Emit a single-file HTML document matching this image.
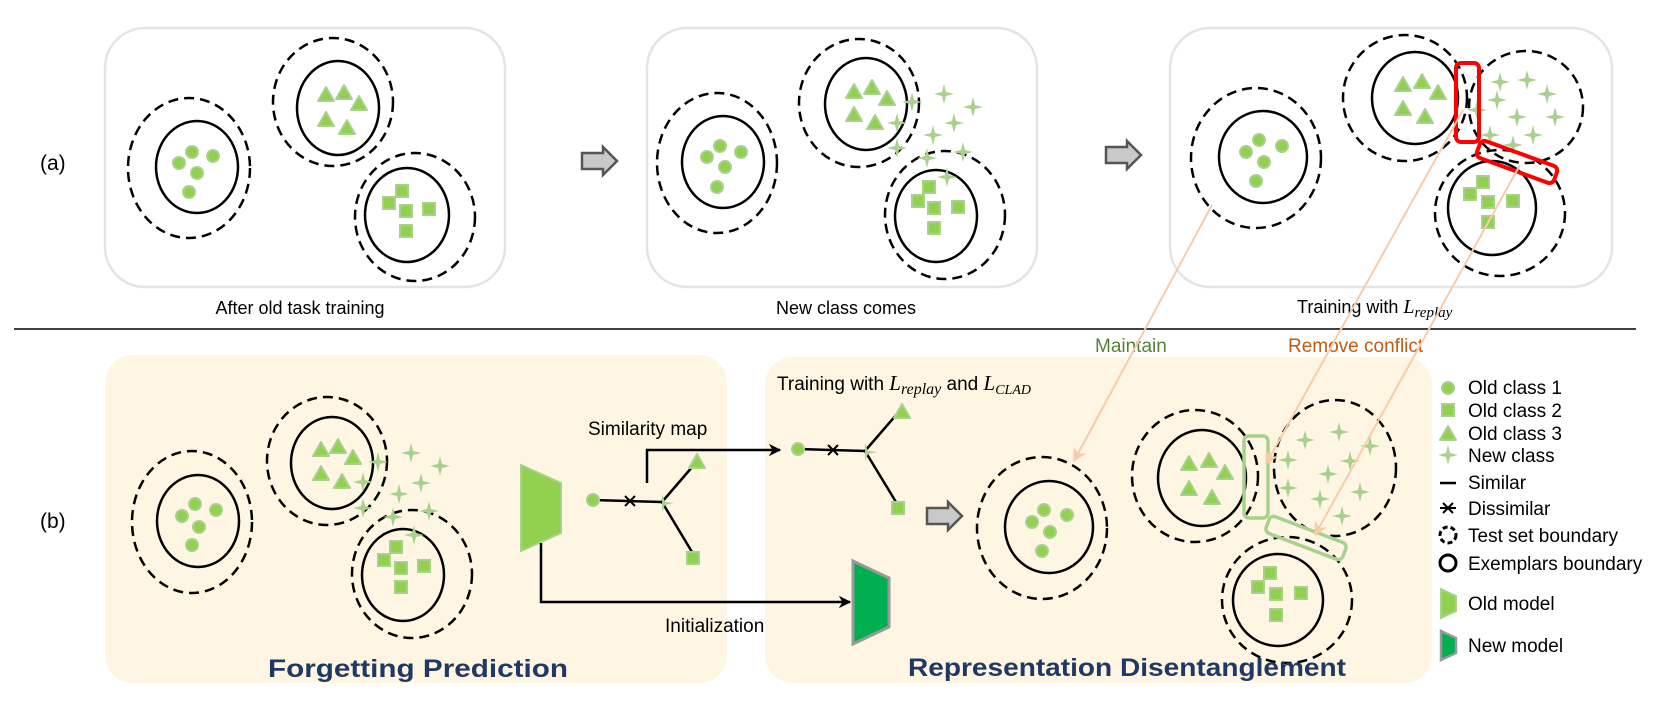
<!DOCTYPE html>
<html><head><meta charset="utf-8"><style>
html,body{margin:0;padding:0;background:#fff;}
svg{display:block;}
text{font-family:"Liberation Sans","DejaVu Sans",sans-serif;}
.m{font-family:"Liberation Serif",serif;font-style:italic;}
</style></head><body>
<svg width="1661" height="712" viewBox="0 0 1661 712" xmlns="http://www.w3.org/2000/svg">
<defs>
<g id="dot"><circle r="6" fill="#92d050" stroke="#a9d18e" stroke-width="2"/></g>
<g id="tri"><polygon points="0,-9 8,5 -8,5" fill="#92d050" stroke="#a9d18e" stroke-width="2" stroke-linejoin="round"/></g>
<g id="sq"><rect x="-6" y="-6" width="12" height="12" fill="#92d050" stroke="#a9d18e" stroke-width="2"/></g>
<g id="st"><path d="M0,-10 L2,-2 L10,0 L2,2 L0,10 L-2,2 L-10,0 L-2,-2Z" fill="#a9d18e"/></g>
<g id="garrow"><path d="M0,6 H21 V0 L35,14 L21,28 V22 H0Z" fill="#c9c9c9" stroke="#555" stroke-width="2.5" stroke-linejoin="miter"/></g>
<marker id="ah" viewBox="0 0 10 10" refX="9" refY="5" markerWidth="5" markerHeight="5" orient="auto"><path d="M0,0 L10,5 L0,10 L3,5Z" fill="#000"/></marker>
<marker id="oh" viewBox="0 0 10 10" refX="9" refY="5" markerWidth="7" markerHeight="7" orient="auto"><path d="M0,0 L10,5 L0,10 L3,5Z" fill="#f8cba9"/></marker>
</defs>

<g fill="none" stroke="#e4e4e4" stroke-width="2.5">
<rect x="105" y="28" width="400" height="259" rx="40"/>
<rect x="647" y="28" width="390" height="259" rx="40"/>
<rect x="1170" y="28" width="442" height="259" rx="40"/>
</g>

<text x="40" y="170" font-size="21">(a)</text>
<text x="40" y="528" font-size="21">(b)</text>

<!-- panel 1 -->
<g fill="none" stroke="#000" stroke-width="2.5">
<ellipse cx="197" cy="167" rx="41" ry="46"/>
<ellipse cx="189" cy="168" rx="61" ry="70" stroke-dasharray="10 6"/>
<ellipse cx="338" cy="108" rx="41" ry="47"/>
<ellipse cx="333" cy="102" rx="60" ry="64" stroke-dasharray="10 6"/>
<ellipse cx="407" cy="215" rx="42" ry="47"/>
<ellipse cx="415" cy="217" rx="60" ry="64" stroke-dasharray="10 6"/>
</g>
<use href="#dot" x="192" y="152"/><use href="#dot" x="213" y="156"/><use href="#dot" x="179" y="163"/><use href="#dot" x="197" y="173"/><use href="#dot" x="189" y="192"/>
<use href="#tri" x="326" y="96"/><use href="#tri" x="344" y="94"/><use href="#tri" x="359" y="105"/><use href="#tri" x="326" y="121"/><use href="#tri" x="347" y="129"/>
<use href="#sq" x="402" y="191"/><use href="#sq" x="389" y="203"/><use href="#sq" x="406" y="211"/><use href="#sq" x="429" y="209"/><use href="#sq" x="406" y="231"/>
<text x="300" y="314" font-size="18" text-anchor="middle">After old task training</text>

<use href="#garrow" x="582" y="147"/>

<!-- panel 2 -->
<g fill="none" stroke="#000" stroke-width="2.5">
<ellipse cx="723" cy="162" rx="41" ry="46"/>
<ellipse cx="717" cy="163" rx="60" ry="70" stroke-dasharray="10 6"/>
<ellipse cx="866" cy="104" rx="41" ry="46"/>
<ellipse cx="859" cy="103" rx="60" ry="64" stroke-dasharray="10 6"/>
<ellipse cx="936" cy="216" rx="41" ry="46"/>
<ellipse cx="945" cy="215" rx="60" ry="64" stroke-dasharray="10 6"/>
</g>
<use href="#dot" x="720" y="146"/><use href="#dot" x="741" y="152"/><use href="#dot" x="707" y="157"/><use href="#dot" x="725" y="167"/><use href="#dot" x="717" y="187"/>
<use href="#tri" x="854" y="93"/><use href="#tri" x="872" y="89"/><use href="#tri" x="887" y="100"/><use href="#tri" x="854" y="116"/><use href="#tri" x="875" y="124"/>
<use href="#sq" x="929" y="187"/><use href="#sq" x="918" y="201"/><use href="#sq" x="934" y="208"/><use href="#sq" x="958" y="207"/><use href="#sq" x="934" y="228"/>
<use href="#st" x="912" y="102"/><use href="#st" x="944" y="94"/><use href="#st" x="973" y="107"/><use href="#st" x="897" y="123"/><use href="#st" x="954" y="123"/><use href="#st" x="933" y="135"/><use href="#st" x="897" y="148"/><use href="#st" x="927" y="158"/><use href="#st" x="963" y="152"/><use href="#st" x="947" y="177"/>
<text x="846" y="314" font-size="18" text-anchor="middle">New class comes</text>

<use href="#garrow" x="1106" y="141"/>

<!-- panel 3 -->
<g fill="none" stroke="#000" stroke-width="2.5">
<ellipse cx="1263" cy="157" rx="44" ry="46"/>
<ellipse cx="1256" cy="158" rx="65" ry="70" stroke-dasharray="10 6"/>
<ellipse cx="1415" cy="98" rx="43" ry="46"/>
<ellipse cx="1405" cy="98" rx="62" ry="63" stroke-dasharray="10 6"/>
<ellipse cx="1526" cy="107" rx="57" ry="56" stroke-dasharray="10 6"/>
<ellipse cx="1492" cy="208" rx="44" ry="47"/>
<ellipse cx="1500" cy="213" rx="65" ry="63" stroke-dasharray="10 6"/>
</g>
<use href="#dot" x="1259" y="140"/><use href="#dot" x="1282" y="146"/><use href="#dot" x="1246" y="152"/><use href="#dot" x="1264" y="162"/><use href="#dot" x="1256" y="181"/>
<use href="#tri" x="1403" y="86"/><use href="#tri" x="1422" y="83"/><use href="#tri" x="1438" y="94"/><use href="#tri" x="1403" y="110"/><use href="#tri" x="1425" y="118"/>
<use href="#sq" x="1483" y="182"/><use href="#sq" x="1470" y="194"/><use href="#sq" x="1488" y="202"/><use href="#sq" x="1513" y="201"/><use href="#sq" x="1488" y="222"/>
<use href="#st" x="1500" y="82"/><use href="#st" x="1527" y="80"/><use href="#st" x="1547" y="94"/><use href="#st" x="1497" y="100"/><use href="#st" x="1517" y="117"/><use href="#st" x="1555" y="117"/><use href="#st" x="1533" y="135"/><use href="#st" x="1513" y="145"/><use href="#st" x="1490" y="135"/><use href="#st" x="1477" y="110"/>
<rect x="1456" y="63" width="23" height="79" rx="5" fill="none" stroke="#ff0000" stroke-width="4"/>
<rect x="-41" y="-9" width="82" height="18" rx="5" fill="none" stroke="#ff0000" stroke-width="4" transform="translate(1517,162) rotate(20)"/>
<text x="1297" y="313" font-size="18">Training with <tspan class="m" font-size="20">L</tspan><tspan class="m" font-size="15" dy="4">replay</tspan></text>

<line x1="14" y1="329" x2="1636" y2="329" stroke="#000" stroke-width="1.5"/>

<!-- bottom panels -->
<rect x="105" y="355" width="622" height="328" rx="28" fill="#fef6e3"/>
<rect x="765" y="357" width="667" height="326" rx="28" fill="#fef6e3"/>

<text x="1095" y="352" font-size="19" fill="#548235">Maintain</text>
<text x="1288" y="352" font-size="19" fill="#c55a11">Remove conflict</text>

<!-- left bottom clusters -->
<g fill="none" stroke="#000" stroke-width="2.5">
<ellipse cx="198" cy="521" rx="41" ry="46"/>
<ellipse cx="192" cy="522" rx="60" ry="71" stroke-dasharray="10 6"/>
<ellipse cx="332" cy="463" rx="41" ry="46"/>
<ellipse cx="327" cy="461" rx="60" ry="64" stroke-dasharray="10 6"/>
<ellipse cx="403" cy="575" rx="41" ry="46"/>
<ellipse cx="412" cy="574" rx="60" ry="64" stroke-dasharray="10 6"/>
</g>
<use href="#dot" x="195" y="504"/><use href="#dot" x="216" y="510"/><use href="#dot" x="182" y="516"/><use href="#dot" x="199" y="527"/><use href="#dot" x="192" y="545"/>
<use href="#tri" x="321" y="451"/><use href="#tri" x="338" y="448"/><use href="#tri" x="353" y="459"/><use href="#tri" x="321" y="475"/><use href="#tri" x="342" y="483"/>
<use href="#sq" x="396" y="547"/><use href="#sq" x="384" y="560"/><use href="#sq" x="401" y="568"/><use href="#sq" x="424" y="566"/><use href="#sq" x="401" y="587"/>
<use href="#st" x="378" y="462"/><use href="#st" x="411" y="453"/><use href="#st" x="440" y="466"/><use href="#st" x="363" y="482"/><use href="#st" x="421" y="483"/><use href="#st" x="399" y="494"/><use href="#st" x="363" y="508"/><use href="#st" x="393" y="517"/><use href="#st" x="429" y="511"/><use href="#st" x="414" y="535"/>

<!-- old model -->
<polygon points="521,465 561,483 561,533 521,551" fill="#92d050" stroke="#a9d18e" stroke-width="2"/>
<!-- init arrow -->
<polyline points="541,543 541,602 850,602" fill="none" stroke="#000" stroke-width="2.5" marker-end="url(#ah)"/>
<polygon points="853,561 889,578 889,627 853,644" fill="#00b050" stroke="#999" stroke-width="3"/>
<text x="665" y="632" font-size="19">Initialization</text>

<!-- left tree -->
<g stroke="#000" stroke-width="2.5" fill="none">
<line x1="593" y1="500" x2="662" y2="502"/>
<line x1="662" y1="502" x2="693" y2="466"/>
<line x1="662" y1="502" x2="692" y2="552"/>
<path d="M625,496 L635,506 M625,506 L635,496" stroke-width="2"/>
<polyline points="647,483 647,450 780,450" marker-end="url(#ah)"/>
</g>
<use href="#dot" x="593" y="500"/>
<use href="#tri" x="697" y="463"/><use href="#sq" x="693" y="558"/>
<path d="M662,494 L665,502 L674,503 L665,505 L662,512Z" fill="#a9d18e"/>
<text x="588" y="435" font-size="19">Similarity map</text>

<!-- right tree -->
<g stroke="#000" stroke-width="2.5" fill="none">
<line x1="798" y1="449" x2="865" y2="451"/>
<line x1="865" y1="451" x2="897" y2="414"/>
<line x1="865" y1="451" x2="896" y2="502"/>
<path d="M828,445 L838,455 M828,455 L838,445" stroke-width="2"/>
</g>
<use href="#dot" x="798" y="449"/>
<use href="#tri" x="902" y="413"/><use href="#sq" x="898" y="508"/>
<path d="M865,443 L868,451 L877,452 L868,454 L865,461Z" fill="#a9d18e"/>
<text x="777" y="390" font-size="19">Training with <tspan class="m" font-size="21">L</tspan><tspan class="m" font-size="16" dy="4">replay</tspan><tspan dy="-4"> and </tspan><tspan class="m" font-size="21">L</tspan><tspan class="m" font-size="14" dy="4">CLAD</tspan></text>

<use href="#garrow" x="927" y="502"/>

<!-- right bottom clusters -->
<g fill="none" stroke="#000" stroke-width="2.5">
<ellipse cx="1049" cy="527" rx="44" ry="46"/>
<ellipse cx="1042" cy="528" rx="65" ry="71" stroke-dasharray="10 6"/>
<ellipse cx="1202" cy="478" rx="44" ry="48"/>
<ellipse cx="1195" cy="476" rx="63" ry="66" stroke-dasharray="10 6"/>
<ellipse cx="1335" cy="468" rx="61" ry="68" stroke-dasharray="10 6"/>
<ellipse cx="1278" cy="600" rx="45" ry="46"/>
<ellipse cx="1287" cy="600" rx="65" ry="63" stroke-dasharray="10 6"/>
</g>
<use href="#dot" x="1044" y="510"/><use href="#dot" x="1067" y="515"/><use href="#dot" x="1032" y="522"/><use href="#dot" x="1050" y="532"/><use href="#dot" x="1042" y="551"/>
<use href="#tri" x="1189" y="465"/><use href="#tri" x="1209" y="462"/><use href="#tri" x="1225" y="474"/><use href="#tri" x="1189" y="490"/><use href="#tri" x="1212" y="499"/>
<use href="#sq" x="1270" y="573"/><use href="#sq" x="1258" y="587"/><use href="#sq" x="1276" y="594"/><use href="#sq" x="1301" y="593"/><use href="#sq" x="1276" y="615"/>
<use href="#st" x="1305" y="440"/><use href="#st" x="1339" y="432"/><use href="#st" x="1370" y="446"/><use href="#st" x="1288" y="460"/><use href="#st" x="1350" y="461"/><use href="#st" x="1328" y="474"/><use href="#st" x="1288" y="488"/><use href="#st" x="1320" y="499"/><use href="#st" x="1360" y="492"/><use href="#st" x="1342" y="516"/>
<rect x="1244" y="436" width="24" height="82" rx="5" fill="none" stroke="#a9d18e" stroke-width="3.5"/>
<rect x="-41" y="-9" width="82" height="18" rx="5" fill="none" stroke="#a9d18e" stroke-width="3.5" transform="translate(1306,538) rotate(21)"/>

<!-- orange connectors -->
<g stroke="#f8cba9" stroke-width="2" fill="none">
<line x1="1212" y1="205" x2="1074" y2="461" marker-end="url(#oh)"/>
<line x1="1463" y1="110" x2="1266" y2="464" marker-end="url(#oh)"/>
<line x1="1520" y1="165" x2="1315" y2="535" marker-end="url(#oh)"/>
</g>

<text x="268" y="677" font-size="25" font-weight="bold" fill="#203864" textLength="300" lengthAdjust="spacingAndGlyphs">Forgetting Prediction</text>
<text x="908" y="676" font-size="25" font-weight="bold" fill="#203864" textLength="438" lengthAdjust="spacingAndGlyphs">Representation Disentanglement</text>

<!-- legend -->
<use href="#dot" x="1448" y="388"/>
<use href="#sq" x="1448" y="410"/>
<use href="#tri" x="1448" y="435"/>
<use href="#st" x="1448" y="455"/>
<line x1="1440" y1="483" x2="1456" y2="483" stroke="#000" stroke-width="2.5"/>
<path d="M1440,508 H1456 M1443,503 L1453,513 M1443,513 L1453,503" stroke="#000" stroke-width="2"/>
<circle cx="1448" cy="535" r="8" fill="none" stroke="#000" stroke-width="3" stroke-dasharray="5 3"/>
<circle cx="1448" cy="563" r="8" fill="none" stroke="#000" stroke-width="3"/>
<polygon points="1441,589 1456,596 1456,611 1441,618" fill="#92d050" stroke="#a9d18e" stroke-width="2"/>
<polygon points="1441,631 1456,638 1456,653 1441,660" fill="#00b050" stroke="#999" stroke-width="2.5"/>
<g font-size="19">
<text x="1468" y="394">Old class 1</text>
<text x="1468" y="417">Old class 2</text>
<text x="1468" y="440">Old class 3</text>
<text x="1468" y="462">New class</text>
<text x="1468" y="489">Similar</text>
<text x="1468" y="515">Dissimilar</text>
<text x="1468" y="542">Test set boundary</text>
<text x="1468" y="570">Exemplars boundary</text>
<text x="1468" y="610">Old model</text>
<text x="1468" y="652">New model</text>
</g>
</svg>
</body></html>
